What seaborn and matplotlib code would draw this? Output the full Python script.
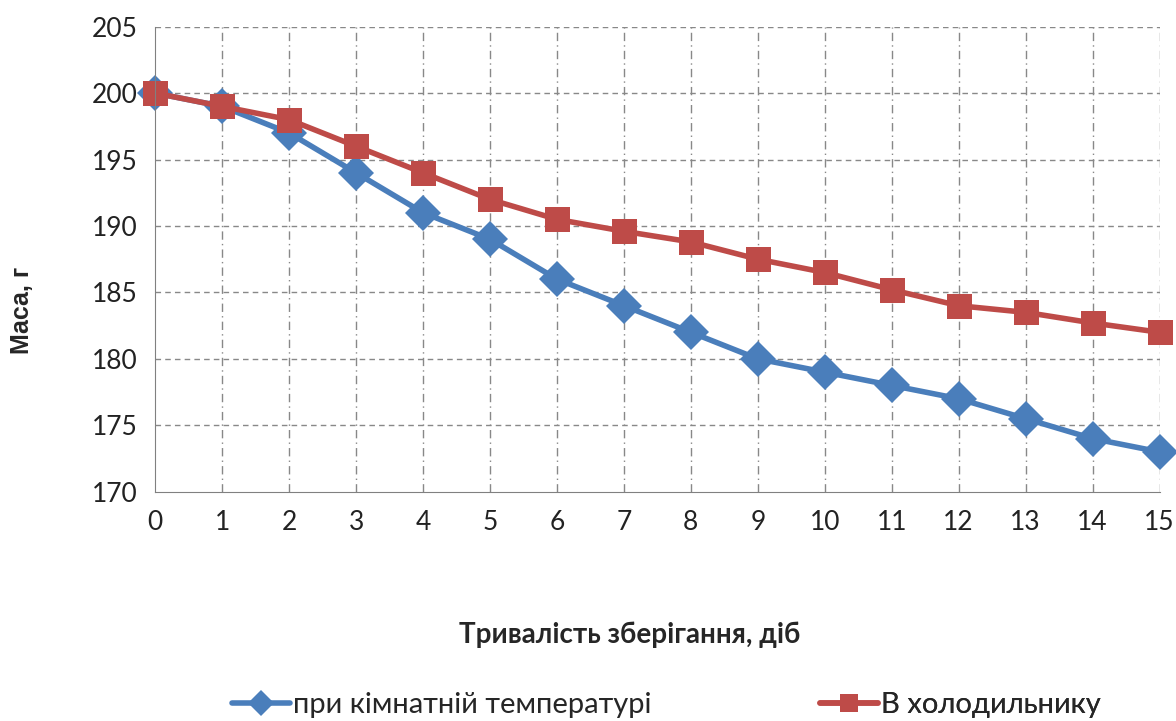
import pandas as pd
import matplotlib.pyplot as plt
import seaborn as sns

days = list(range(16))
room = [200, 199, 197, 194, 191, 189, 186, 184, 182, 180, 179, 178, 177, 175.5, 174, 173]
fridge = [200, 199, 198, 196, 194, 192, 190.5, 189.6, 188.8, 187.5, 186.5, 185.2, 184, 183.5, 182.7, 182]
series_names = ["при кімнатній температурі", "В холодильнику"]

df = pd.DataFrame({
    "day": days * 2,
    "mass": room + fridge,
    "series": [series_names[0]] * 16 + [series_names[1]] * 16,
})

sns.set_style("white")
plt.rcParams["font.family"] = ["Lato", "DejaVu Sans"]

fig = plt.figure(figsize=(11.76, 7.21), dpi=100)
ax = fig.add_axes([0.132, 0.318, 0.854, 0.645])

sns.lineplot(data=df, x="day", y="mass", hue="series", style="series",
             palette=["#4a7ebb", "#be4b48"], markers=["D", "s"], dashes=False,
             linewidth=4, markersize=18, markeredgewidth=0, ax=ax)
for line in ax.lines:
    line.set_clip_on(False)

ax.set_xlim(0, 15)
ax.set_ylim(170, 205)
ax.set_xticks(days)
ax.set_yticks(range(170, 206, 5))
ax.tick_params(axis="both", labelsize=19, colors="#808080", labelcolor="#222222",
               length=7, width=1, direction="out", pad=6)

for y in range(175, 206, 5):
    ax.axhline(y, color="#888888", lw=1, ls=(0, (4, 3)), zorder=0)
for x in days[1:]:
    ax.axvline(x, color="#888888", lw=1, ls=(0, (6, 3, 1, 3)), zorder=0)

for s in ["top", "right"]:
    ax.spines[s].set_visible(False)
ax.spines["left"].set_color("#808080")
ax.spines["bottom"].set_color("#808080")

ax.set_xlabel("Тривалість зберігання, діб", fontsize=20, fontweight="bold", va="center")
ax.xaxis.set_label_coords(0.472, -0.307)
ax.set_ylabel("Маса, г", fontsize=18, fontweight="bold", va="center",
              family=["Liberation Sans", "DejaVu Sans"])
ax.yaxis.set_label_coords(-0.133, 0.39)

handles, labels = ax.get_legend_handles_labels()
ax.get_legend().remove()
for h, l, x0 in zip(handles, labels, [232, 820]):
    leg = ax.legend([h], [l], loc="center left",
                    bbox_to_anchor=(x0 / 1176, 1 - 705 / 721),
                    bbox_transform=fig.transFigure, frameon=False, fontsize=21,
                    borderpad=0, borderaxespad=0, handlelength=2.0,
                    handletextpad=0.1, markerscale=0.75)
    ax.add_artist(leg)

fig.savefig("out.png", dpi=100)
